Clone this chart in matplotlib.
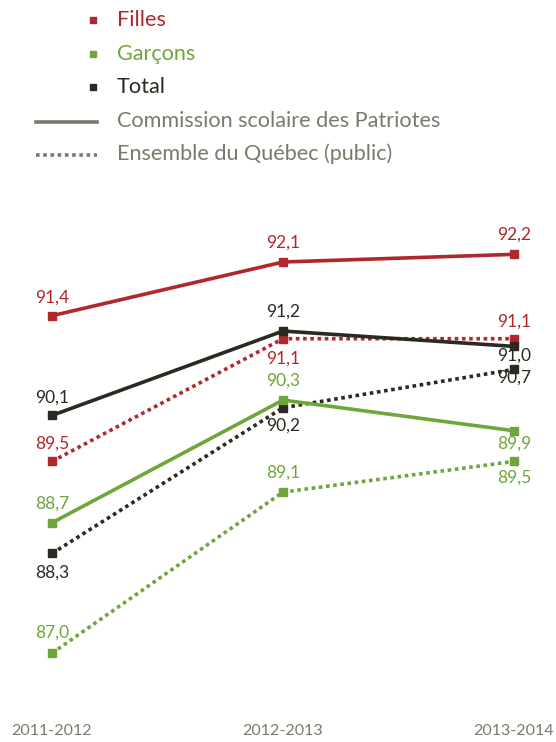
import matplotlib
matplotlib.use('Agg')
import matplotlib.pyplot as plt

plt.rcParams['font.family'] = ['Lato', 'DejaVu Sans']

# data
years = ['2011-2012', '2012-2013', '2013-2014']
filles_csp = [91.4, 92.1, 92.2]
filles_qc = [89.5, 91.1, 91.1]
garcons_csp = [88.7, 90.3, 89.9]
garcons_qc = [87.0, 89.1, 89.5]
total_csp = [90.1, 91.2, 91.0]
total_qc = [88.3, 90.2, 90.7]

RED = '#B0282C'
GREEN = '#6EA63A'
BLACK = '#2A2A20'
GREY = '#7A7A6C'

# label offsets in points (negative = above, positive = below)
series = [
    (garcons_qc, GREEN, ':', [-15, -14, 12]),
    (total_qc, BLACK, ':', [14, 13, 6]),
    (filles_qc, RED, ':', [-13, 14, -12]),
    (garcons_csp, GREEN, '-', [-14, -14, 9]),
    (total_csp, BLACK, '-', [-13, -14, 7]),
    (filles_csp, RED, '-', [-13, -14, -14]),
]

fig = plt.figure(figsize=(5.56, 7.42), dpi=100)
ax = fig.add_axes([0, 0, 1, 1])
ax.set_xlim(-0.225, 2.182)
ax.set_ylim(85.842, 95.516)
ax.axis('off')

x = list(range(len(years)))
for vals, col, ls, offs in series:
    if ls == ':':
        ax.plot(x, vals, color=col, lw=2.6, linestyle=(0, (1, 1)),
                marker='s', markersize=6, solid_capstyle='butt')
    else:
        ax.plot(x, vals, color=col, lw=2.6, marker='s', markersize=6)
    for xi, v, o in zip(x, vals, offs):
        ax.annotate(f'{v:.1f}'.replace('.', ','), (xi, v), xytext=(0, -o),
                    textcoords='offset points', ha='center', va='center',
                    fontsize=12.5, color=col)

# year labels along the bottom
for xi, yr in zip(x, years):
    ax.text(xi, 85.98, yr, ha='center', va='center', fontsize=11.5,
            color=GREY)

# legend drawn in pixel space
lg = fig.add_axes([0, 0, 1, 1])
lg.set_xlim(0, 556)
lg.set_ylim(742, 0)
lg.axis('off')
items = [('Filles', RED), ('Garçons', GREEN), ('Total', BLACK)]
for i, (name, col) in enumerate(items):
    yy = 20 + i * 33.5
    lg.plot([93], [yy], marker='s', color=col, markersize=5)
    lg.text(117, yy, name, color=col, fontsize=15.6, va='center')
lg.plot([36, 97], [122, 122], color=GREY, lw=2.6)
lg.text(117, 121, 'Commission scolaire des Patriotes', color=GREY, fontsize=15.6, va='center')
lg.plot([36, 97], [155, 155], color=GREY, lw=2.6, linestyle=(0, (1, 1)))
lg.text(117, 154, 'Ensemble du Québec (public)', color=GREY, fontsize=15.6, va='center')

fig.savefig('out.png', dpi=100)
